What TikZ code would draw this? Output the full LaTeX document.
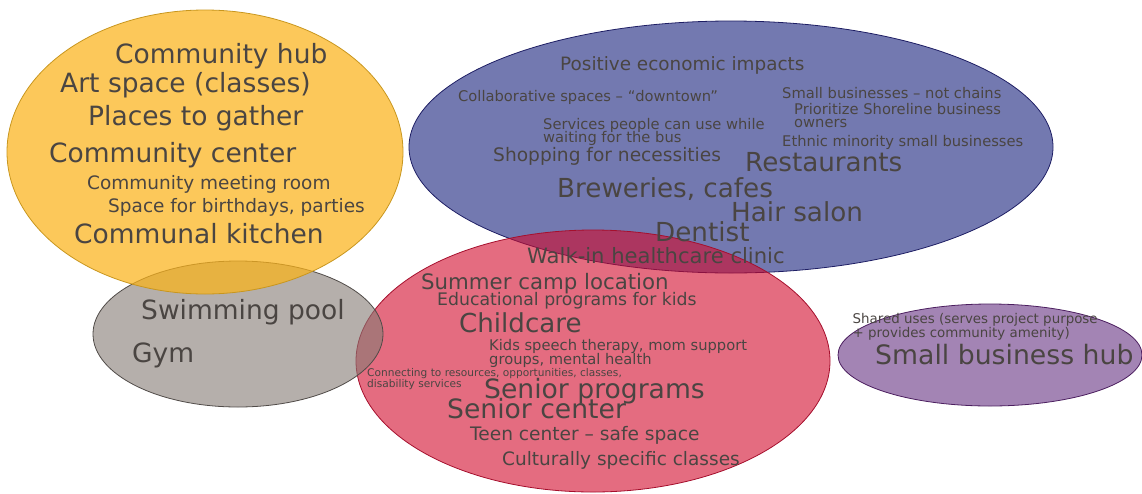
\documentclass[tikz,border=0pt]{standalone}
\usepackage{fontspec}
\setmainfont{DejaVu Sans}
\definecolor{txt}{RGB}{74,69,66}
\definecolor{yfill}{RGB}{251,179,26}
\definecolor{yedge}{RGB}{200,150,30}
\definecolor{bfill}{RGB}{22,32,123}
\definecolor{bedge}{RGB}{30,30,100}
\definecolor{rfill}{RGB}{210,10,43}
\definecolor{redge}{RGB}{165,15,45}
\definecolor{gfill}{RGB}{132,122,115}
\definecolor{gedge}{RGB}{80,75,72}
\definecolor{pfill}{RGB}{102,50,130}
\definecolor{pedge}{RGB}{75,30,95}
\newcommand\fsz[1]{\fontsize{#1}{#1}\selectfont}
\begin{document}
\begin{tikzpicture}[x=1pt,y=-1pt,
  blob/.style={line width=0.8pt},
  lbl/.style={anchor=base west, inner sep=0pt, text=txt}]
\useasboundingbox (0,0) rectangle (1142,493);
% ellipses
\path[blob, draw=bedge, fill=bfill, fill opacity=0.6] (731,147) ellipse [x radius=322, y radius=126];
\path[blob, draw=redge, fill=rfill, fill opacity=0.6] (593,361) ellipse [x radius=237, y radius=131];
\path[blob, draw=gedge, fill=gfill, fill opacity=0.6] (238,334) ellipse [x radius=145, y radius=73];
\path[blob, draw=yedge, fill=yfill, fill opacity=0.72] (205,152) ellipse [x radius=198, y radius=142];
\path[blob, draw=pedge, fill=pfill, fill opacity=0.6] (990,355) ellipse [x radius=152, y radius=51];
% yellow
\node[lbl, font=\fsz{26.5}] (t1) at (115,63) {Community hub};
\node[lbl, font=\fsz{26.5}] (t2) at (60,92) {Art space (classes)};
\node[lbl, font=\fsz{26.5}] (t3) at (88,125) {Places to gather};
\node[lbl, font=\fsz{26.5}] (t4) at (49,162) {Community center};
\node[lbl, font=\fsz{18.5}] (t5) at (87,189) {Community meeting room};
\node[lbl, font=\fsz{18.5}] (t6) at (108,212) {Space for birthdays, parties};
\node[lbl, font=\fsz{26.5}] (t7) at (74,243) {Communal kitchen};
% gray
\node[lbl, font=\fsz{26.5}] (t8) at (141,319.5) {Swimming pool};
\node[lbl, font=\fsz{26.5}] (t9) at (132,362) {Gym};
% blue
\node[lbl, font=\fsz{18.4}] (t10) at (560,70.5) {Positive economic impacts};
\node[lbl, font=\fsz{14.7}] (t11) at (458,101.7) {Collaborative spaces – “downtown”};
\node[lbl, font=\fsz{14.7}] (t12) at (782,98.3) {Small businesses – not chains};
\node[lbl, font=\fsz{14.7}] (t13) at (794,114) {Prioritize Shoreline business};
\node[lbl, font=\fsz{14.7}] (t14) at (794,127.3) {owners};
\node[lbl, font=\fsz{14.7}] (t15) at (543,129) {Services people can use while};
\node[lbl, font=\fsz{14.7}] (t16) at (543,142.7) {waiting for the bus};
\node[lbl, font=\fsz{14.7}] (t17) at (782,146.7) {Ethnic minority small businesses};
\node[lbl, font=\fsz{18.6}] (t18) at (493,161.7) {Shopping for necessities};
\node[lbl, font=\fsz{26.2}] (t19) at (745,171) {Restaurants};
\node[lbl, font=\fsz{26.2}] (t20) at (557,197) {Breweries, cafes};
\node[lbl, font=\fsz{26.2}] (t21) at (731,221) {Hair salon};
\node[lbl, font=\fsz{26.2}] (t22) at (655,241) {Dentist};
\node[lbl, font=\fsz{21.1}] (t23) at (527,263) {Walk-in healthcare clinic};
% red
\node[lbl, font=\fsz{21.3}] (t24) at (421,289) {Summer camp location};
\node[lbl, font=\fsz{17.3}] (t25) at (437,305.7) {Educational programs for kids};
\node[lbl, font=\fsz{26.1}] (t26) at (459,332.7) {Childcare};
\node[lbl, font=\fsz{14.7}] (t27) at (489,350.7) {Kids speech therapy, mom support};
\node[lbl, font=\fsz{14.7}] (t28) at (489,364) {groups, mental health};
\node[lbl, font=\fsz{10.6}] (t29) at (367,376.7) {Connecting to resources, opportunities, classes,};
\node[lbl, font=\fsz{10.6}] (t30) at (367,387.5) {disability services};
\node[lbl, font=\fsz{26.6}] (t31) at (484,398.5) {Senior programs};
\node[lbl, font=\fsz{26.6}] (t32) at (447,418.5) {Senior center};
\node[lbl, font=\fsz{18.6}] (t33) at (470,440) {Teen center – safe space};
\node[lbl, font=\fsz{18.5}] (t34) at (502,465.5) {Culturally specific classes};
% purple
\node[lbl, font=\fsz{13.4}] (t35) at (852.5,323.3) {Shared uses (serves project purpose};
\node[lbl, font=\fsz{13.4}] (t36) at (852.5,337.7) {+ provides community amenity)};
\node[lbl, font=\fsz{26.7}] (t37) at (875,364.3) {Small business hub};
\end{tikzpicture}
\end{document}
